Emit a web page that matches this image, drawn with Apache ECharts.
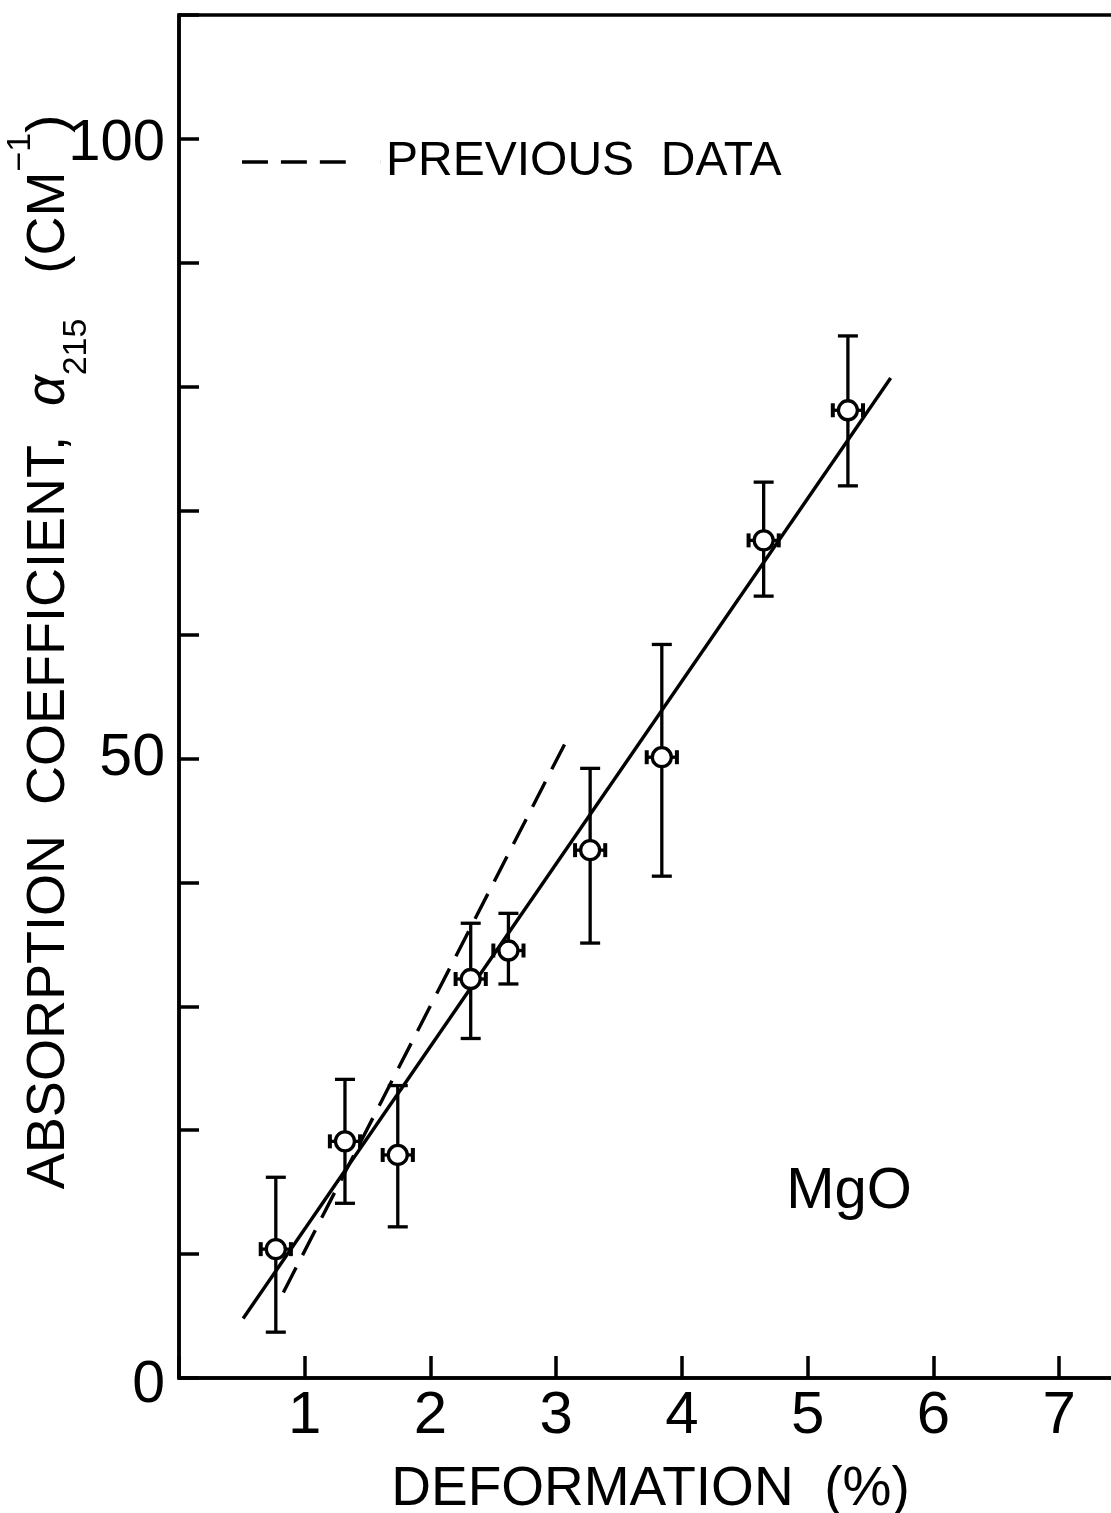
<!DOCTYPE html>
<html>
<head>
<meta charset="utf-8">
<script src="https://cdn.jsdelivr.net/npm/echarts@6/dist/echarts.min.js"></script>
<style>
  html, body { margin: 0; padding: 0; background: #ffffff; }
  #chart { width: 1111px; height: 1513px; }
</style>
</head>
<body>
<div id="chart"></div>
<script>
// ---- data ----
const deformation = [0.77, 1.32, 1.74, 2.32, 2.62, 3.27, 3.84, 4.65, 5.32];
const absorption  = [10.4, 19.1, 18.0, 32.2, 34.5, 42.6, 50.1, 67.6, 78.1];
const absLow      = [3.7, 14.1, 12.2, 27.4, 31.8, 35.1, 40.5, 63.1, 72.0];
const absHigh     = [16.2, 24.1, 23.6, 36.7, 37.5, 49.2, 59.2, 72.3, 84.1];
const deformationErr = [0.12, 0.12, 0.12, 0.12, 0.12, 0.12, 0.12, 0.12, 0.12];

const fitX = [0.51, 5.66];
const fitY = [4.8, 80.7];
const previousX = [0.83, 3.11];
const previousY = [6.9, 52.0];

const xTicks = [1, 2, 3, 4, 5, 6, 7];
const yTickLabels = [0, 50, 100];

const xTitle = 'DEFORMATION  (%)';
const legendLabel = 'PREVIOUS  DATA';
const materialLabel = 'MgO';

// ---- build ----
const FONT = 'Liberation Sans';
const points = deformation.map((x, i) => [x, absorption[i], absLow[i], absHigh[i], deformationErr[i]]);
const fitData = fitX.map((x, i) => [x, fitY[i]]);
const prevData = previousX.map((x, i) => [x, previousY[i]]);

function yLabel(v) {
  if (yTickLabels.indexOf(v) < 0) return '';
  if (v === 0) return '{z|0}';
  if (v === 100) return '{t|100}';
  return '{m|' + v + '}';
}

const chart = echarts.init(document.getElementById('chart'), null, { renderer: 'canvas' });

const option = {
  animation: false,
  backgroundColor: '#ffffff',
  grid: {
    left: 179, top: 15, bottom: 135, right: -11,
    outerBoundsMode: 'none', containLabel: false,
    show: true, borderColor: '#000', borderWidth: 3.5, backgroundColor: 'transparent'
  },
  legend: {
    show: true,
    left: 237, top: 133,
    selectedMode: false,
    data: [{ name: legendLabel, icon: 'path://M0,0h28v4h-28zM42,0h28v4h-28zM84,0h28v4h-28zM149.9,0h0.1v4h-0.1z' }],
    itemWidth: 139, itemHeight: 4,
    itemStyle: { color: '#000', borderWidth: 0 },
    textStyle: { fontFamily: FONT, fontSize: 48, color: '#000', lineHeight: 48 }
  },
  xAxis: {
    type: 'value', min: 0, max: 7.5, interval: 1,
    name: xTitle, nameLocation: 'middle', nameGap: 84,
    nameTextStyle: { fontFamily: FONT, fontSize: 55, color: '#000', lineHeight: 55 },
    axisLine: { show: true, lineStyle: { color: '#000', width: 3.5 } },
    axisTick: { show: true, inside: true, length: 22, lineStyle: { color: '#000', width: 3.5 } },
    axisLabel: {
      margin: 8, fontFamily: FONT, fontSize: 60, color: '#000', lineHeight: 60,
      formatter: v => (xTicks.indexOf(v) >= 0 ? String(v) : '')
    },
    splitLine: { show: false }
  },
  yAxis: {
    type: 'value', min: 0, max: 110, interval: 10,
    axisLine: { show: true, lineStyle: { color: '#000', width: 3.5 } },
    axisTick: { show: true, inside: true, length: 20, lineStyle: { color: '#000', width: 3.5 } },
    axisLabel: {
      margin: 14, fontFamily: FONT, fontSize: 59, color: '#000',
      formatter: yLabel,
      rich: {
        z: { fontFamily: FONT, fontSize: 59, color: '#000', lineHeight: 59, padding: [16, 0, 0, 0] },
        m: { fontFamily: FONT, fontSize: 59, color: '#000', lineHeight: 59 },
        t: { fontFamily: FONT, fontSize: 58, color: '#000', lineHeight: 58, padding: [10, 0, 0, 0] }
      }
    },
    splitLine: { show: false }
  },
  series: [
    {
      name: 'fit', type: 'line', data: fitData, symbol: 'none', z: 2,
      lineStyle: { color: '#000', width: 3.4 }, itemStyle: { color: '#000' }
    },
    {
      name: legendLabel, type: 'line', data: prevData, symbol: 'none', z: 2,
      lineStyle: { color: '#000', width: 3.4, type: [28, 14] }, itemStyle: { color: '#000' }
    },
    {
      name: 'data', type: 'custom', z: 5,
      data: points,
      encode: { x: 0, y: 1 },
      renderItem: function (params, api) {
        const x = api.value(0), y = api.value(1), lo = api.value(2), hi = api.value(3), xe = api.value(4);
        const c = api.coord([x, y]);
        const top = api.coord([x, hi]);
        const bot = api.coord([x, lo]);
        const left = api.coord([x - xe, y]);
        const right = api.coord([x + xe, y]);
        const r = 9.5, cap = 10, hcap = 7;
        const st = { stroke: '#000', lineWidth: 3.3, fill: null };
        const st2 = { stroke: '#000', lineWidth: 4, fill: null };
        return {
          type: 'group',
          children: [
            { type: 'line', shape: { x1: c[0], y1: top[1], x2: c[0], y2: bot[1] }, style: st },
            { type: 'line', shape: { x1: c[0] - cap, y1: top[1], x2: c[0] + cap, y2: top[1] }, style: st },
            { type: 'line', shape: { x1: c[0] - cap, y1: bot[1], x2: c[0] + cap, y2: bot[1] }, style: st },
            { type: 'line', shape: { x1: left[0], y1: c[1], x2: right[0], y2: c[1] }, style: st },
            { type: 'line', shape: { x1: left[0], y1: c[1] - hcap, x2: left[0], y2: c[1] + hcap }, style: st2 },
            { type: 'line', shape: { x1: right[0], y1: c[1] - hcap, x2: right[0], y2: c[1] + hcap }, style: st2 },
            { type: 'circle', shape: { cx: c[0], cy: c[1], r: r }, style: { fill: '#fff', stroke: '#000', lineWidth: 3.3 } }
          ]
        };
      }
    }
  ],
  graphic: [
    {
      type: 'text', x: 49, y: 652, rotation: Math.PI / 2, z: 10,
      style: {
        text: 'ABSORPTION  COEFFICIENT,  {al|α}{sub|215}   (CM{sup|−1})',
        fontFamily: FONT, fontSize: 54, fill: '#000', lineHeight: 90,
        align: 'center', verticalAlign: 'middle',
        rich: {
          al: { fontFamily: FONT, fontSize: 54, fontStyle: 'italic', fill: '#000', lineHeight: 90 },
          sub: { fontFamily: FONT, fontSize: 34, fill: '#000', lineHeight: 34, verticalAlign: 'bottom' },
          sup: { fontFamily: FONT, fontSize: 34, fill: '#000', lineHeight: 34, verticalAlign: 'top' }
        }
      }
    },
    {
      type: 'text', x: 849, y: 1192, z: 10,
      style: {
        text: materialLabel, fontFamily: FONT, fontSize: 58, fill: '#000',
        align: 'center', verticalAlign: 'middle'
      }
    }
  ]
};

chart.setOption(option);
</script>
</body>
</html>
